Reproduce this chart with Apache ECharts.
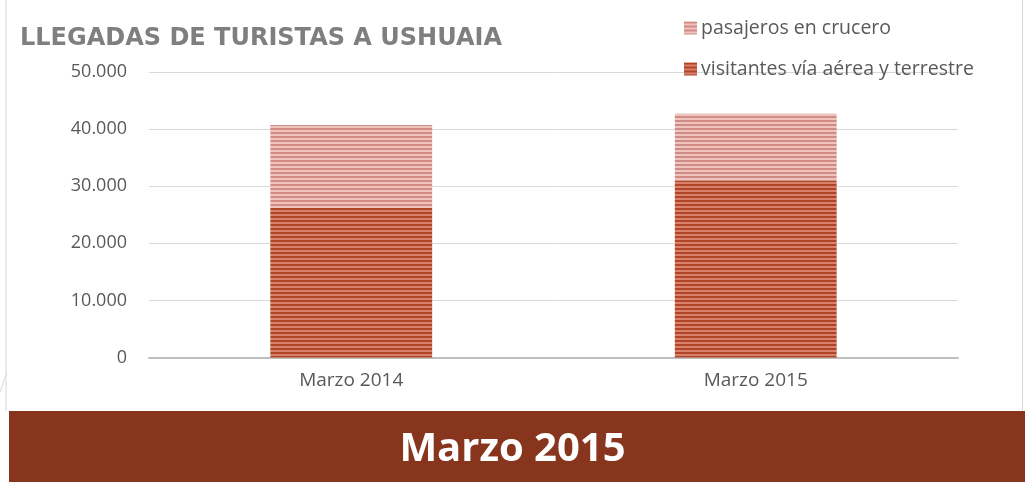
<!DOCTYPE html>
<html>
<head>
<meta charset="utf-8">
<script src="https://cdn.jsdelivr.net/npm/echarts@6/dist/echarts.min.js"></script>
<style>
html,body{margin:0;padding:0;background:#fff;}
#chart{width:1025px;height:484px;}
</style>
</head>
<body>
<div id="chart"></div>
<script>
const categories = ['Marzo 2014', 'Marzo 2015'];
const visitantes = [26200, 31000];
const cruceros = [14500, 11700];
const seriesNames = ['visitantes vía aérea y terrestre', 'pasajeros en crucero'];
const yTicks = [0, 10000, 20000, 30000, 40000, 50000];
const titleText = 'LLEGADAS DE TURISTAS A USHUAIA';
const bandText = 'Marzo 2015';

function stripes(dark, light) {
  const c = document.createElement('canvas');
  c.width = 8; c.height = 4;
  const ctx = c.getContext('2d');
  ctx.fillStyle = light; ctx.fillRect(0, 0, 8, 4);
  ctx.fillStyle = dark; ctx.fillRect(0, 0, 8, 2);
  return c;
}
const lowPat = { image: stripes('#B0452A', '#D9826B'), repeat: 'repeat' };
const upPat = { image: stripes('#D28B84', '#EDC3BD'), repeat: 'repeat' };

function fmt(v) { return String(v).replace(/\B(?=(\d{3})+(?!\d))/g, '.'); }

const chart = echarts.init(document.getElementById('chart'), null, { renderer: 'canvas' });
chart.setOption({
  animation: false,
  backgroundColor: '#ffffff',
  title: {
    text: titleText, left: 15, top: 22,
    textStyle: { fontFamily: 'DejaVu Sans', fontWeight: 'bold', fontSize: 24, color: '#7F7F7F' }
  },
  legend: {
    orient: 'vertical', left: 679, top: 13, itemWidth: 13, itemHeight: 13, itemGap: 21,
    icon: 'rect',
    data: [seriesNames[1], seriesNames[0]],
    textStyle: { fontFamily: 'Open Sans', fontSize: 19.5, color: '#595959', padding: [0, 0, 0, -1] }
  },
  grid: { left: 149, right: 67, top: 72, bottom: 126.5, containLabel: false },
  xAxis: {
    type: 'category', data: categories,
    axisLine: { lineStyle: { color: '#BFBFBF', width: 2 } },
    axisTick: { show: false },
    axisLabel: { fontFamily: 'Open Sans', fontSize: 19, color: '#595959', margin: 14 }
  },
  yAxis: {
    type: 'value', min: yTicks[0], max: yTicks[yTicks.length - 1], interval: yTicks[1] - yTicks[0],
    axisLine: { show: false }, axisTick: { show: false },
    splitLine: { lineStyle: { color: '#D9D9D9', width: 1 } },
    axisLabel: { fontFamily: 'Open Sans', fontSize: 18, color: '#595959', margin: 22, formatter: v => fmt(v) }
  },
  series: [
    { name: seriesNames[0], type: 'bar', stack: 't', data: visitantes, barWidth: '40%',
      itemStyle: { color: lowPat } },
    { name: seriesNames[1], type: 'bar', stack: 't', data: cruceros, barWidth: '40%',
      itemStyle: { color: upPat } }
  ],
  graphic: [
    { type: 'line', shape: { x1: 6, y1: 0, x2: 6, y2: 411 }, style: { stroke: '#D9D9D9', lineWidth: 1 } },
    { type: 'line', shape: { x1: 1022.5, y1: 0, x2: 1022.5, y2: 411 }, style: { stroke: '#D9D9D9', lineWidth: 1 } },
    { type: 'line', shape: { x1: 0, y1: 392, x2: 7, y2: 372 }, style: { stroke: '#D9D9D9', lineWidth: 1 } },
    { type: 'rect', shape: { x: 9, y: 411, width: 1016, height: 71 }, style: { fill: '#88351E' } },
    { type: 'text', left: 'center', top: 430,
      style: { text: bandText, fill: '#FFFFFF', font: 'bold 40px "Open Sans"', textAlign: 'center' } }
  ]
});
</script>
</body>
</html>
